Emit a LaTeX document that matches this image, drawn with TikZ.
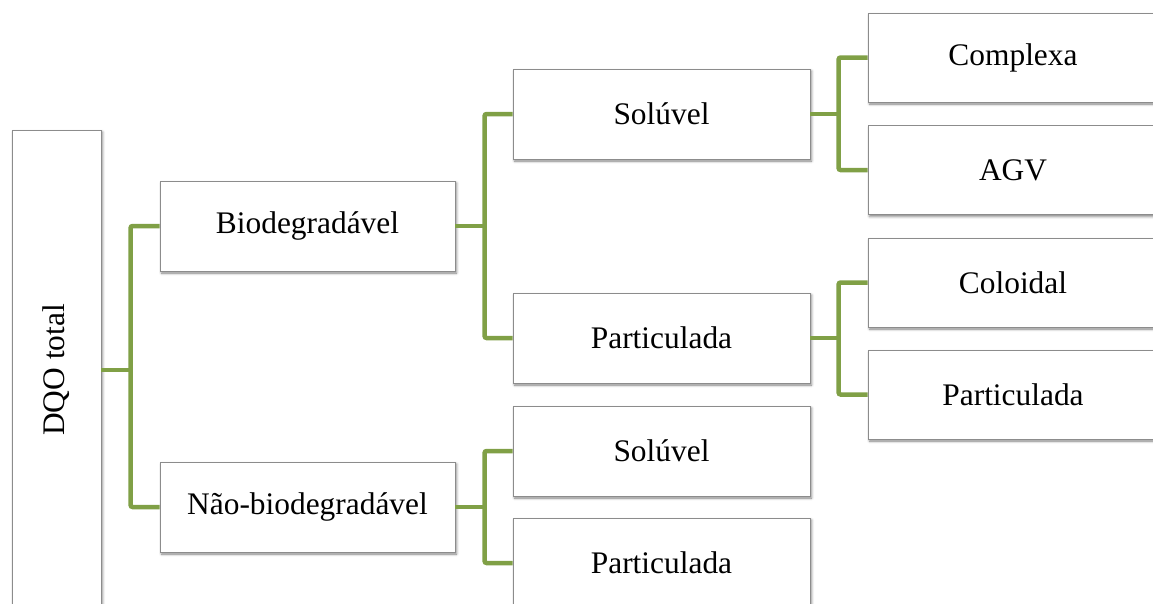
\documentclass[tikz,border=0pt]{standalone}
\usepackage{fontspec}
\setmainfont{Liberation Serif}
\usetikzlibrary{shadows.blur}
\definecolor{leafgreen}{RGB}{128,160,70}

\begin{document}
\begin{tikzpicture}[x=1pt,y=-1pt,
  box/.style={draw=black!45,line width=0.8pt,fill=white,minimum width=295pt,minimum height=90pt,
    font=\fontsize{31.4}{36}\selectfont,
    blur shadow={shadow xshift=1.5pt,shadow yshift=-2pt,shadow blur radius=2.5pt,shadow opacity=50}},
  link/.style={leafgreen,line width=4.5pt,rounded corners=2pt}]
\clip (0,0) rectangle (1153,603);
% root and first level
\node[box,minimum width=89pt,minimum height=480pt] (dqo) at (56.5,370) {\rotatebox{90}{DQO total}};
\node[box] (bio) at (307.5,226) {Biodegradável};
\node[box] (nbio) at (307.5,507) {Não-biodegradável};
% second level
\node[box,minimum width=297pt] (sol1) at (661.5,114) {Solúvel};
\node[box,minimum width=297pt] (par1) at (661.5,338) {Particulada};
\node[box,minimum width=297pt] (sol2) at (661.5,451) {Solúvel};
\node[box,minimum width=297pt] (par2) at (661.5,563) {Particulada};
% third level
\node[box,minimum width=290pt,minimum height=89pt] (comp) at (1013,57.5) {Complexa};
\node[box,minimum width=290pt,minimum height=89pt] (agv) at (1013,170) {AGV};
\node[box,minimum width=290pt,minimum height=89pt] (colo) at (1013,282.5) {Coloidal};
\node[box,minimum width=290pt,minimum height=89pt] (par3) at (1013,394.5) {Particulada};

\draw[link] (dqo.east) -- ++(30,0);
\draw[link] (bio.west) -- ++(-29,0) |- (nbio.west);
\draw[link] (bio.east) -- ++(30,0);
\draw[link] (sol1.west) -- ++(-28,0) |- (par1.west);
\draw[link] (nbio.east) -- ++(30,0);
\draw[link] (sol2.west) -- ++(-28,0) |- (par2.west);
\draw[link] (sol1.east) -- ++(29,0);
\draw[link] (comp.west) -- ++(-29,0) |- (agv.west);
\draw[link] (par1.east) -- ++(29,0);
\draw[link] (colo.west) -- ++(-29,0) |- (par3.west);
\end{tikzpicture}
\end{document}
